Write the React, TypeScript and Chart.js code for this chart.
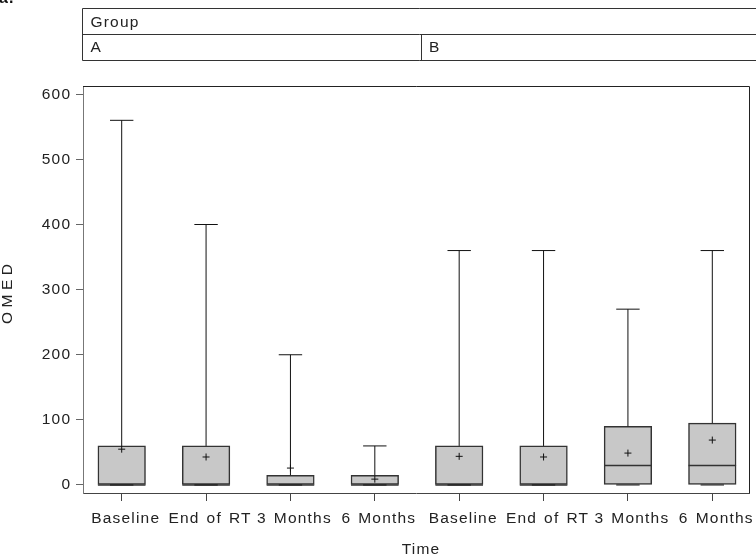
import { useEffect, useRef } from "react";
import { Chart, registerables } from "chart.js";

Chart.register(...registerables);

const categories = ["Baseline", "End of RT", "3 Months", "6 Months", "Baseline", "End of RT", "3 Months", "6 Months"];
const groupLabels = ["A", "B"];
const q1Values = [0, 0, 0, 0, 0, 0, 0, 0];
const medianValues = [0, 0, 0, 0, 0, 0, 30, 30];
const q3Values = [60, 60, 15, 15, 60, 60, 90, 95];
const minValues = [0, 0, 0, 0, 0, 0, 0, 0];
const maxValues = [560, 400, 200, 60, 360, 360, 270, 360];
const meanValues = [55, 43, 26, 9, 44, 43, 49, 69];
const yTickValues = [0, 100, 200, 300, 400, 500, 600];

const FONT_FAMILY = "'Liberation Sans', Arial, Helvetica, sans-serif";
const FONT_SIZE = 15.5;
const TEXT = "#222";

function setSpacing(ctx: any) {
  ctx.letterSpacing = "1.2px";
  ctx.wordSpacing = "1.5px";
}

const decorPlugin = {
  id: "decor",
  beforeUpdate(chart: any) {
    setSpacing(chart.ctx);
  },
  beforeDraw(chart: any) {
    setSpacing(chart.ctx);
  },
  afterDraw(chart: any) {
    const ctx = chart.ctx;
    const a = chart.chartArea;
    ctx.save();
    // frame top & right
    ctx.strokeStyle = "#222";
    ctx.lineWidth = 1;
    ctx.beginPath();
    ctx.moveTo(a.left, a.top + 0.5);
    ctx.lineTo(a.right + 0.5, a.top + 0.5);
    ctx.lineTo(a.right + 0.5, a.bottom);
    ctx.stroke();

    // header table
    const hl = a.left - 0.5;
    const hr = chart.width + 2;
    const y0 = 8.5, y1 = 34.5, y2 = 60.5;
    const mid = Math.round((hl + a.right + 11) / 2) + 0.5;
    ctx.strokeStyle = "#333";
    ctx.beginPath();
    ctx.moveTo(hr, y0); ctx.lineTo(hl, y0); ctx.lineTo(hl, y2); ctx.lineTo(hr, y2);
    ctx.moveTo(hl, y1); ctx.lineTo(hr, y1);
    ctx.moveTo(mid, y1); ctx.lineTo(mid, y2);
    ctx.stroke();

    ctx.fillStyle = TEXT;
    ctx.font = `${FONT_SIZE}px ${FONT_FAMILY}`;
    ctx.textAlign = "left";
    ctx.textBaseline = "middle";
    ctx.fillText("Group", hl + 8, 22.5);
    ctx.fillText(groupLabels[0], hl + 8, 47.5);
    ctx.fillText(groupLabels[1], mid + 7.5, 47.5);

    // x title
    ctx.textAlign = "center";
    ctx.fillText("Time", (a.left + a.right) / 2 + 5, 550);

    // panel letter fragment
    ctx.font = `bold 16px ${FONT_FAMILY}`;
    ctx.textAlign = "left";
    ctx.textBaseline = "alphabetic";
    ctx.fillStyle = "#111";
    ctx.fillText("a.", -1, 3);

    // y title
    ctx.font = `${FONT_SIZE}px ${FONT_FAMILY}`;
    ctx.fillStyle = TEXT;
    ctx.letterSpacing = "4.5px";
    ctx.translate(8, 294);
    ctx.rotate(-Math.PI / 2);
    ctx.textAlign = "center";
    ctx.textBaseline = "middle";
    ctx.fillText("OMED", 2.25, 0);
    ctx.restore();
  },
};

export default function App() {
  const ref = useRef<HTMLCanvasElement | null>(null);

  useEffect(() => {
    document.body.style.margin = "0";
    const canvas = ref.current;
    if (!canvas) return;

    const idx = categories.map((_, i) => i);
    const whiskers: any[] = [];
    idx.forEach((i) => {
      whiskers.push({ x: i, y: q3Values[i] }, { x: i, y: maxValues[i] }, { x: i, y: null });
      whiskers.push({ x: i, y: q1Values[i] }, { x: i, y: minValues[i] }, { x: i, y: null });
    });
    const caps = [
      ...idx.map((i) => ({ x: i, y: maxValues[i] })),
      ...idx.map((i) => ({ x: i, y: minValues[i] })),
    ];

    const font = { family: FONT_FAMILY, size: FONT_SIZE };

    const chart = new Chart(canvas, {
      type: "bar",
      data: {
        datasets: [
          {
            type: "bar",
            data: idx.map((i) => ({ x: i, y: [q1Values[i], q3Values[i]] })) as any,
            backgroundColor: "#c8c8c8",
            borderColor: "#333",
            borderWidth: 1.5,
            borderSkipped: false,
            barThickness: 47.6,
            order: 10,
          } as any,
          {
            type: "line",
            data: whiskers,
            borderColor: "#111",
            borderWidth: 1,
            pointRadius: 0,
            spanGaps: false,
            fill: false,
            order: 2,
          } as any,
          {
            type: "scatter",
            data: caps,
            pointStyle: "line",
            pointRadius: 11.7,
            pointBorderColor: "#111",
            pointBorderWidth: 1,
            order: 1,
          } as any,
          {
            type: "scatter",
            data: idx.map((i) => ({ x: i, y: medianValues[i] })),
            pointStyle: "line",
            pointRadius: 23.8,
            pointBorderColor: "#333",
            pointBorderWidth: 1.5,
            order: 1,
          } as any,
          {
            type: "scatter",
            data: idx.map((i) => ({ x: i, y: meanValues[i] })),
            pointStyle: "cross",
            pointRadius: 3.5,
            pointBorderColor: "#111",
            pointBorderWidth: 1,
            order: 0,
          } as any,
        ],
      },
      options: {
        animation: false,
        responsive: false,
        devicePixelRatio: 1,
        events: [],
        layout: { autoPadding: false, padding: { top: 86, right: 7, left: 0, bottom: 0 } },
        plugins: { legend: { display: false }, tooltip: { enabled: false } },
        scales: {
          x: {
            type: "linear",
            bounds: "data",
            offset: false,
            min: -0.4587,
            max: 7.435,
            afterBuildTicks: (s: any) => {
              s.ticks = idx.map((i) => ({ value: i }));
            },
            afterFit: (s: any) => {
              s.height = 66;
              s.paddingLeft = 0;
              s.paddingRight = 0;
            },
            grid: { drawOnChartArea: false, offset: false, tickLength: 8, color: "#444" },
            border: { color: "#444", width: 1 },
            ticks: {
              callback: (v: any) => categories[Math.round(Number(v))] ?? "",
              padding: 8,
              labelOffset: 4,
              color: TEXT,
              font,
              autoSkip: false,
              maxRotation: 0,
            },
            title: { display: false },
          },
          y: {
            type: "linear",
            bounds: "data",
            min: -12.29,
            max: 612.7,
            afterBuildTicks: (s: any) => {
              s.ticks = yTickValues.map((v) => ({ value: v }));
            },
            afterFit: (s: any) => {
              s.width = 83;
              s.paddingTop = 0;
              s.paddingBottom = 0;
            },
            grid: { drawOnChartArea: false, tickLength: 7, color: "#666" },
            border: { color: "#777", width: 1 },
            ticks: {
              callback: (v: any) => String(v),
              padding: 4.8,
              color: TEXT,
              font,
            },
          },
        },
      } as any,
      plugins: [decorPlugin],
    });

    return () => chart.destroy();
  }, []);

  return (
    <div style={{ width: 756, height: 559 }}>
      <canvas ref={ref} width={756} height={559} style={{ display: "block", width: 756, height: 559 }} />
    </div>
  );
}
